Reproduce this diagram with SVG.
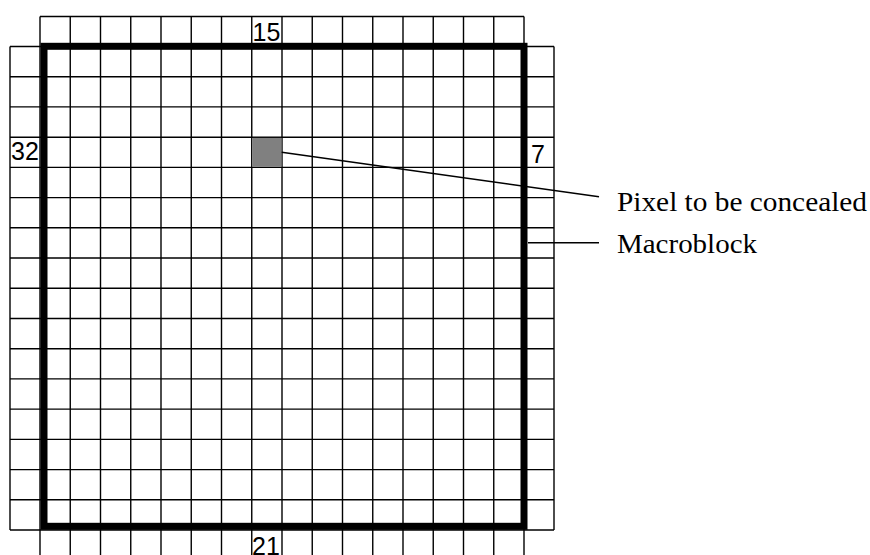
<svg xmlns="http://www.w3.org/2000/svg" width="870" height="555" viewBox="0 0 870 555">
<defs>
<style>
.g line{stroke:#000;stroke-width:1.4}
.num{font-family:"Liberation Sans",Arial,sans-serif;font-size:25px;fill:#000}
.lbl{font-family:"Liberation Serif","Times New Roman",serif;font-size:28px;fill:#000}
.conn line{stroke:#000;stroke-width:1.4}
</style>
</defs>
<rect width="870" height="555" fill="#fff"/>
<g id="grid" class="g">
<line x1="40" y1="16.5" x2="524" y2="16.5"/>
<line x1="10" y1="46.5" x2="554" y2="46.5"/>
<line x1="10" y1="76.7" x2="554" y2="76.7"/>
<line x1="10" y1="106.9" x2="554" y2="106.9"/>
<line x1="10" y1="137.2" x2="554" y2="137.2"/>
<line x1="10" y1="167.4" x2="554" y2="167.4"/>
<line x1="10" y1="197.6" x2="554" y2="197.6"/>
<line x1="10" y1="227.8" x2="554" y2="227.8"/>
<line x1="10" y1="258.0" x2="554" y2="258.0"/>
<line x1="10" y1="288.3" x2="554" y2="288.3"/>
<line x1="10" y1="318.5" x2="554" y2="318.5"/>
<line x1="10" y1="348.7" x2="554" y2="348.7"/>
<line x1="10" y1="378.9" x2="554" y2="378.9"/>
<line x1="10" y1="409.1" x2="554" y2="409.1"/>
<line x1="10" y1="439.4" x2="554" y2="439.4"/>
<line x1="10" y1="469.6" x2="554" y2="469.6"/>
<line x1="10" y1="499.8" x2="554" y2="499.8"/>
<line x1="10" y1="530" x2="554" y2="530"/>
<line x1="10" y1="46.5" x2="10" y2="530"/>
<line x1="554" y1="46.5" x2="554" y2="530"/>
<line x1="40" y1="16.5" x2="40" y2="555"/>
<line x1="70.25" y1="16.5" x2="70.25" y2="555"/>
<line x1="100.5" y1="16.5" x2="100.5" y2="555"/>
<line x1="130.75" y1="16.5" x2="130.75" y2="555"/>
<line x1="161" y1="16.5" x2="161" y2="555"/>
<line x1="191.25" y1="16.5" x2="191.25" y2="555"/>
<line x1="221.5" y1="16.5" x2="221.5" y2="555"/>
<line x1="251.75" y1="16.5" x2="251.75" y2="555"/>
<line x1="282" y1="16.5" x2="282" y2="555"/>
<line x1="312.25" y1="16.5" x2="312.25" y2="555"/>
<line x1="342.5" y1="16.5" x2="342.5" y2="555"/>
<line x1="372.75" y1="16.5" x2="372.75" y2="555"/>
<line x1="403" y1="16.5" x2="403" y2="555"/>
<line x1="433.25" y1="16.5" x2="433.25" y2="555"/>
<line x1="463.5" y1="16.5" x2="463.5" y2="555"/>
<line x1="493.75" y1="16.5" x2="493.75" y2="555"/>
<line x1="524" y1="16.5" x2="524" y2="555"/>
</g>
<g id="pixel">
<rect x="252.5" y="137.9" width="29" height="29" fill="#808080"/>
</g>
<g id="macroblock">
<rect x="44" y="46.3" width="480" height="480" fill="none" stroke="#000" stroke-width="7"/>
</g>
<g id="numbers">
<text class="num" x="252.5" y="40.5">15</text>
<text class="num" x="252" y="554.5">21</text>
<text class="num" x="11" y="160">32</text>
<text class="num" x="531" y="163">7</text>
</g>
<g id="connectors" class="conn">
<line x1="281.7" y1="152.3" x2="599" y2="196.7"/>
<line x1="528" y1="242.7" x2="599" y2="242.7"/>
</g>
<g id="label-pixel">
<text class="lbl" x="617" y="211" textLength="250" lengthAdjust="spacingAndGlyphs">Pixel to be concealed</text>
</g>
<g id="label-macroblock">
<text class="lbl" x="617" y="252.5" textLength="140" lengthAdjust="spacingAndGlyphs">Macroblock</text>
</g>
</svg>
